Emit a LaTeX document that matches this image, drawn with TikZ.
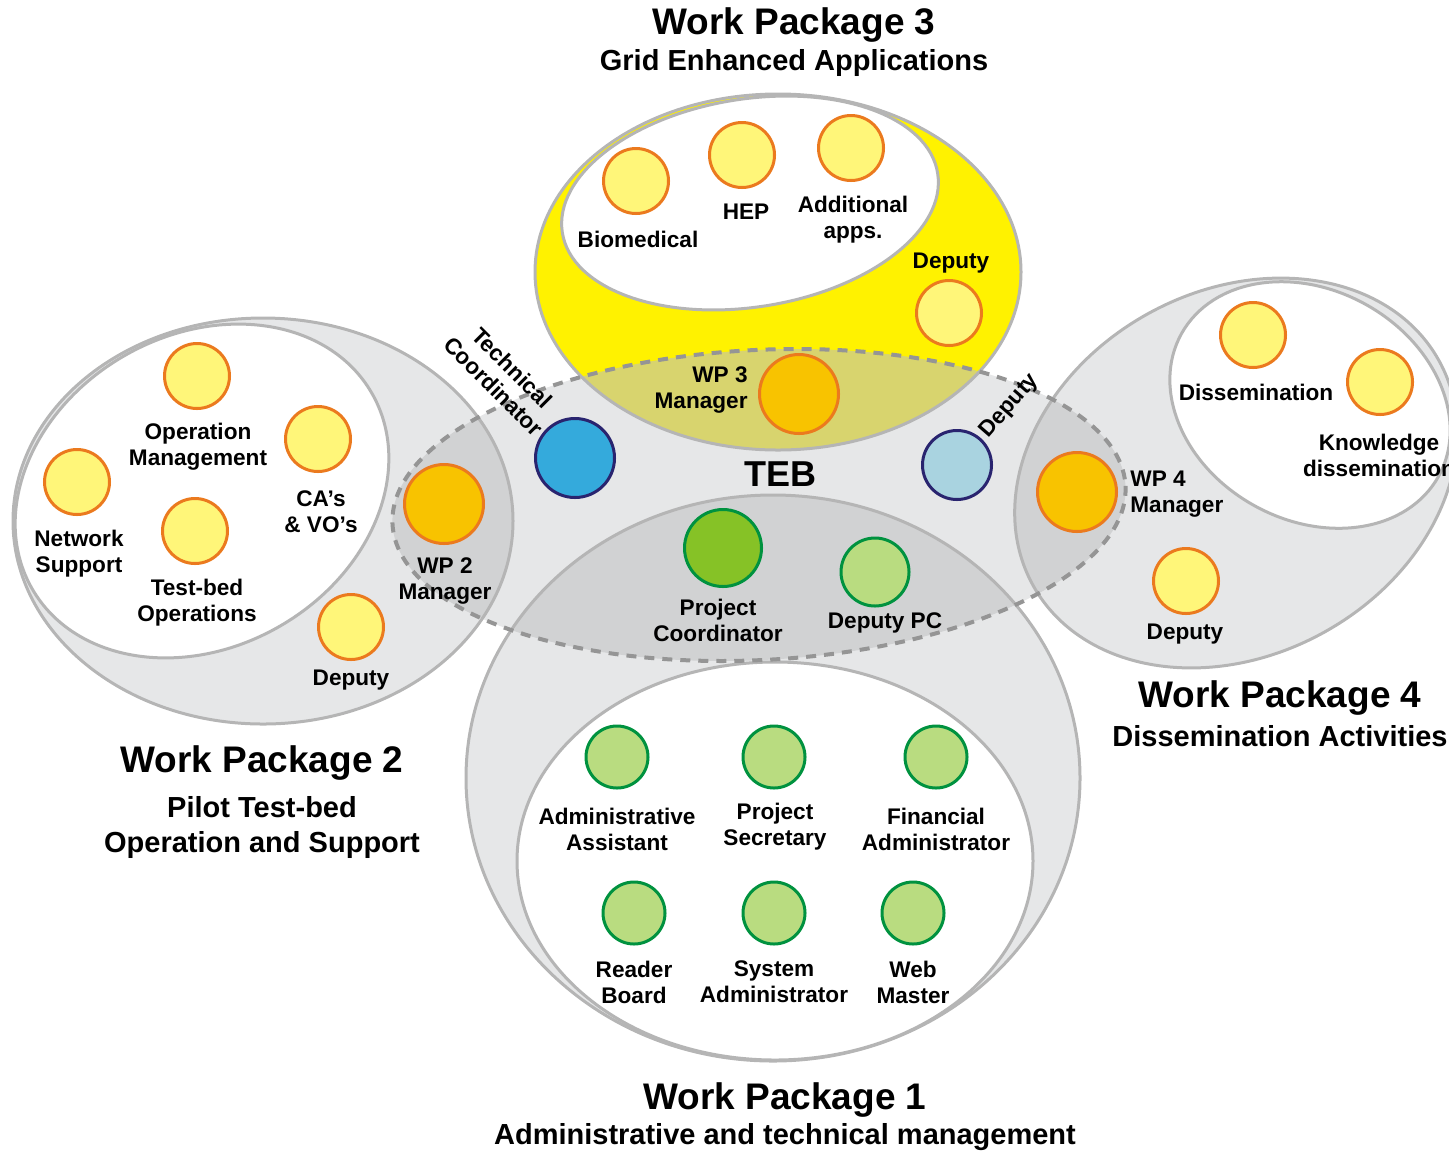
\documentclass[tikz,border=0pt]{standalone}
\usepackage{fontspec}
\setmainfont{Liberation Sans}
\definecolor{wpgray}{HTML}{E6E7E8}
\definecolor{wpdark}{HTML}{D1D2D3}
\definecolor{wpline}{HTML}{B5B5B5}
\definecolor{tebline}{HTML}{959595}
\definecolor{wpyellow}{HTML}{FFF200}
\definecolor{wpolive}{HTML}{D8D46E}
\definecolor{pyellow}{HTML}{FFF679}
\definecolor{porange}{HTML}{EB7A1E}
\definecolor{pmanager}{HTML}{F8C300}
\definecolor{pblue}{HTML}{34AADC}
\definecolor{plblue}{HTML}{A9D3E0}
\definecolor{pnavy}{HTML}{29246F}
\definecolor{pgreen}{HTML}{86C226}
\definecolor{plgreen}{HTML}{B9DC80}
\definecolor{pdgreen}{HTML}{00923F}
\begin{document}
\begin{tikzpicture}[x=0.5pt, y=-0.5pt,
  region/.style={draw=wpline, line width=1.5pt},
  member/.style={circle, draw=porange, fill=pyellow, line width=1.5pt, inner sep=0pt, minimum size=32.5pt},
  manager/.style={member, fill=pmanager, minimum size=39.5pt},
  tebp/.style={circle, draw=pnavy, line width=1.5pt, inner sep=0pt},
  admin/.style={circle, draw=pdgreen, fill=plgreen, line width=1.5pt, inner sep=0pt, minimum size=31pt},
  lbl/.style={font=\bfseries\fontsize{11.3}{13}\selectfont, align=center, inner sep=0pt},
  wptitle/.style={font=\bfseries\fontsize{18.5}{22}\selectfont, inner sep=0pt},
  wpsub/.style={font=\bfseries\fontsize{14.5}{17.5}\selectfont, align=center, inner sep=0pt}]
\useasboundingbox (0, 0) rectangle (1449, 1152);
% TEB
\fill[wpgray, rotate around={3:(759, 505)}] (759, 505) ellipse [x radius=367, y radius=155];
% WP 2, 4, 1, 3
\fill[wpgray] (263, 521) ellipse [x radius=250, y radius=203];
\fill[wpgray, rotate around={29:(1236, 473)}] (1236, 473) ellipse [x radius=232, y radius=182];
\fill[wpgray] (773, 778) ellipse [x radius=307, y radius=283];
\fill[wpyellow] (778, 272) ellipse [x radius=243, y radius=178];
% TEB over the work packages
\begin{scope}
\clip (263, 521) ellipse [x radius=250, y radius=203];
\fill[wpdark, rotate around={3:(759, 505)}] (759, 505) ellipse [x radius=367, y radius=155];
\end{scope}
\begin{scope}
\clip[rotate around={29:(1236, 473)}] (1236, 473) ellipse [x radius=232, y radius=182];
\fill[wpdark, rotate around={3:(759, 505)}] (759, 505) ellipse [x radius=367, y radius=155];
\end{scope}
\begin{scope}
\clip (773, 778) ellipse [x radius=307, y radius=283];
\fill[wpdark, rotate around={3:(759, 505)}] (759, 505) ellipse [x radius=367, y radius=155];
\end{scope}
\begin{scope}
\clip (778, 272) ellipse [x radius=243, y radius=178];
\fill[wpolive, rotate around={3:(759, 505)}] (759, 505) ellipse [x radius=367, y radius=155];
\end{scope}
% borders
\draw[region] (263, 521) ellipse [x radius=250, y radius=203];
\draw[region, rotate around={29:(1236, 473)}] (1236, 473) ellipse [x radius=232, y radius=182];
\draw[region] (773, 778) ellipse [x radius=307, y radius=283];
\draw[region] (778, 272) ellipse [x radius=243, y radius=178];
% inner sets
\draw[region, fill=white, rotate around={30:(202, 491)}] (202, 491) ellipse [x radius=196, y radius=156];
\draw[region, fill=white, rotate around={-29:(1310, 405)}] (1310, 405) ellipse [x radius=147, y radius=115];
\draw[region, fill=white] (775, 861) ellipse [x radius=258, y radius=199];
\draw[region, fill=white, rotate around={9:(750, 203)}] (750, 203) ellipse [x radius=190, y radius=104];
% TEB border
\draw[tebline, line width=2pt, dash pattern=on 5pt off 4pt, rotate around={3:(759, 505)}] (759, 505) ellipse [x radius=367, y radius=155];

% WP 3
\node[member] (biomed) at (636, 181) {};
\node[member] (hep) at (742, 155) {};
\node[member] (apps) at (851, 148) {};
\node[member] (dep3) at (949, 313) {};
\node[manager] (man3) at (799, 394) {};
\node[lbl] (biomed-t) at (638, 239) {Biomedical};
\node[lbl] (hep-t) at (746, 212) {HEP};
\node[lbl] (apps-t) at (853, 220) {Additional\\apps.};
\node[lbl] (dep3-t) at (951, 263) {Deputy};
\node[lbl, align=right, anchor=east] (man3-t) at (748, 390) {WP 3\\Manager};
% TEB
\node[tebp, fill=pblue, minimum size=39.5pt] (tech) at (575, 458) {};
\node[tebp, fill=plblue, minimum size=34.5pt] (deptech) at (957, 465) {};
\node[lbl, rotate=-45] (tech-t) at (503, 377) {Technical\\Coordinator};
\node[lbl, rotate=49] (deptech-t) at (1010, 406) {Deputy};
\node[font=\bfseries\fontsize{18}{22}\selectfont, inner sep=0pt] (teb) at (780, 474) {TEB};
\node[admin, fill=pgreen, minimum size=38.5pt] (pc) at (723, 548) {};
\node[admin, minimum size=34pt] (deppc) at (875, 572) {};
\node[lbl] (pc-t) at (718, 620) {Project\\Coordinator};
\node[lbl] (deppc-t) at (885, 623) {Deputy PC};
% WP 2
\node[member] (opman) at (197, 376) {};
\node[member] (cas) at (318, 439) {};
\node[member] (netsup) at (77, 482) {};
\node[member] (testbed) at (195, 531) {};
\node[member] (dep2) at (351, 627) {};
\node[manager] (man2) at (444, 504) {};
\node[lbl] (opman-t) at (198, 447) {Operation\\Management};
\node[lbl] (cas-t) at (321, 512) {CA’s\\\& VO’s};
\node[lbl] (netsup-t) at (79, 554) {Network\\Support};
\node[lbl] (testbed-t) at (197, 603) {Test-bed\\Operations};
\node[lbl] (dep2-t) at (351, 680) {Deputy};
\node[lbl] (man2-t) at (445, 581) {WP 2\\Manager};
% WP 4
\node[member] (diss) at (1253, 335) {};
\node[member] (know) at (1380, 382) {};
\node[member] (dep4) at (1186, 581) {};
\node[manager] (man4) at (1077, 492) {};
\node[lbl] (diss-t) at (1256, 392) {Dissemination};
\node[lbl] (know-t) at (1379, 455) {Knowledge\\dissemination};
\node[lbl] (dep4-t) at (1185, 634) {Deputy};
\node[lbl, align=left, anchor=west] (man4-t) at (1130, 494) {WP 4\\Manager};
% WP 1
\node[admin] (adminass) at (617, 757) {};
\node[admin] (projsec) at (774, 757) {};
\node[admin] (finadmin) at (936, 757) {};
\node[admin] (reader) at (634, 913) {};
\node[admin] (sysadmin) at (774, 913) {};
\node[admin] (webm) at (913, 913) {};
\node[lbl] (adminass-t) at (617, 829) {Administrative\\Assistant};
\node[lbl] (projsec-t) at (775, 827) {Project\\Secretary};
\node[lbl] (finadmin-t) at (936, 829) {Financial\\Administrator};
\node[lbl] (reader-t) at (634, 982) {Reader\\Board};
\node[lbl] (sysadmin-t) at (774, 982) {System\\Administrator};
\node[lbl] (webm-t) at (913, 982) {Web\\Master};
%Text
\node[wptitle] (wp3) at (794, 25) {Work Package 3};
\node[wpsub] (wp3-s) at (794, 63) {Grid Enhanced Applications};
\node[wptitle] (wp2) at (262, 763) {Work Package 2};
\node[wpsub] (wp2-s) at (262, 827) {Pilot Test-bed\\Operation and Support};
\node[wptitle] (wp4) at (1280, 698) {Work Package 4};
\node[wpsub] (wp4-s) at (1280, 736) {Dissemination Activities};
\node[wptitle] (wp1) at (785, 1100) {Work Package 1};
\node[wpsub] (wp1-s) at (785, 1137) {Administrative and technical management};
\end{tikzpicture}
\end{document}
